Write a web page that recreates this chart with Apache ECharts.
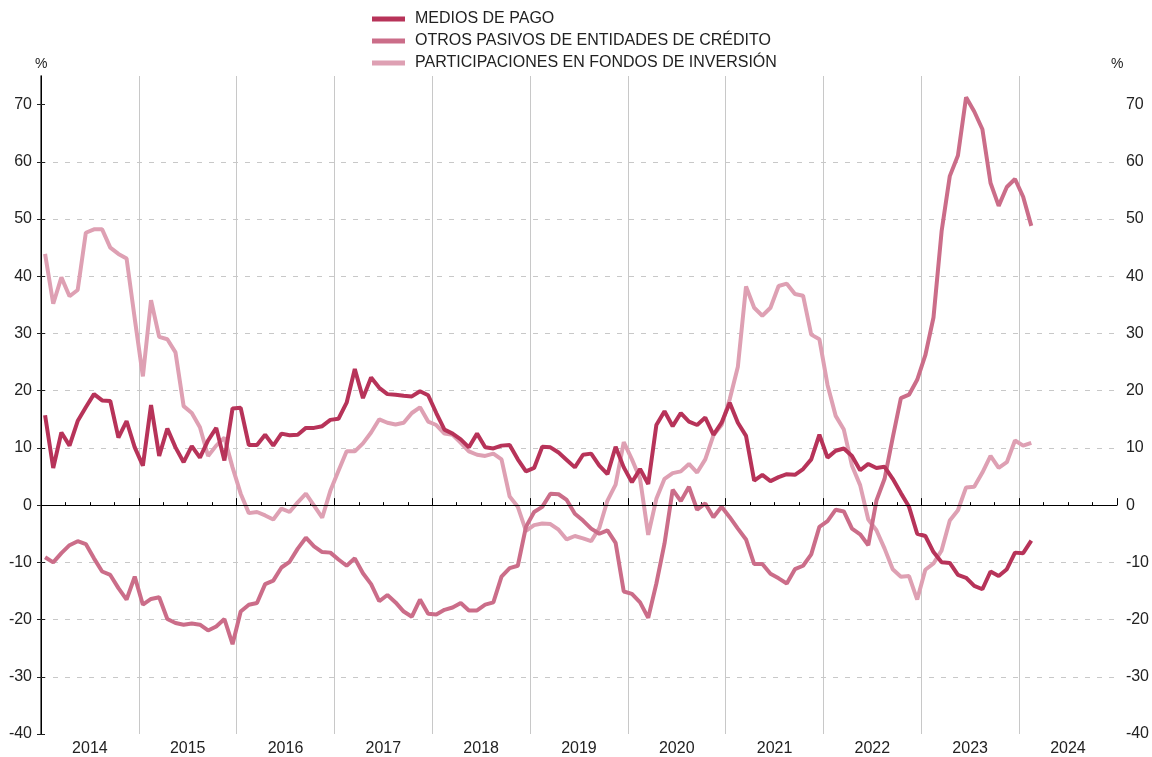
<!DOCTYPE html>
<html lang="es">
<head>
<meta charset="UTF-8">
<title>Medios de pago</title>
<script src="https://cdn.jsdelivr.net/npm/echarts@6.0.0/dist/echarts.min.js"></script>
<style>
  html, body { margin: 0; padding: 0; background: #fff; }
  #chart { width: 1152px; height: 757px; }
</style>
</head>
<body>
<div id="chart"></div>
<script>
// datos mensuales, ene 2014 - feb 2024 (tasas interanuales, %)
const years = ['2014','2015','2016','2017','2018','2019','2020','2021','2022','2023','2024'];

const mediosPago = [
  15.7, 6.5, 12.7, 10.4, 14.7, 17.1, 19.4, 18.3, 18.2, 11.8, 14.7, 10.1,
  6.9, 17.5, 8.6, 13.4, 10.1, 7.5, 10.3, 8.3, 11.3, 13.5, 7.8, 16.9,
  17.0, 10.5, 10.5, 12.3, 10.4, 12.5, 12.2, 12.3, 13.5, 13.5, 13.8, 14.9,
  15.1, 17.9, 23.8, 18.7, 22.3, 20.5, 19.4, 19.3, 19.1, 19.0, 19.9, 19.2,
  16.1, 13.2, 12.5, 11.5, 10.1, 12.5, 10.1, 9.9, 10.4, 10.5, 8.0, 5.9,
  6.5, 10.2, 10.1, 9.2, 7.9, 6.6, 8.8, 9.0, 6.9, 5.4, 10.2, 6.6,
  4.0, 6.3, 3.7, 14.0, 16.4, 13.8, 16.1, 14.6, 14.0, 15.3, 12.3, 14.4,
  17.9, 14.4, 12.1, 4.3, 5.3, 4.2, 4.9, 5.4, 5.3, 6.3, 8.0, 12.3,
  8.3, 9.5, 9.9, 8.6, 6.1, 7.2, 6.5, 6.7, 4.6, 2.1, -0.3, -5.0,
  -5.4, -8.2, -10.0, -10.1, -12.2, -12.7, -14.1, -14.7, -11.6, -12.4, -11.2, -8.3,
  -8.4, -6.2
];

const otrosPasivos = [
  -9.1, -10.0, -8.4, -7.0, -6.3, -6.8, -9.3, -11.6, -12.2, -14.5, -16.5, -12.5,
  -17.4, -16.4, -16.1, -19.9, -20.6, -20.9, -20.7, -20.9, -21.9, -21.2, -19.9, -24.3,
  -18.6, -17.4, -17.1, -13.8, -13.2, -10.9, -9.9, -7.6, -5.7, -7.2, -8.2, -8.3,
  -9.5, -10.6, -9.3, -11.9, -13.8, -16.8, -15.7, -17.0, -18.6, -19.5, -16.5, -19.0,
  -19.1, -18.3, -17.9, -17.1, -18.4, -18.4, -17.4, -17.0, -12.5, -11.0, -10.6, -3.8,
  -1.2, -0.3, 2.0, 1.9, 0.9, -1.5, -2.7, -4.1, -5.0, -4.4, -6.6, -15.1,
  -15.5, -17.0, -19.7, -13.7, -6.7, 2.7, 0.7, 3.2, -0.8, 0.3, -2.1, -0.3,
  -2.1, -4.1, -6.0, -10.3, -10.3, -12.0, -12.8, -13.7, -11.2, -10.6, -8.6, -3.8,
  -2.8, -0.8, -1.1, -4.1, -5.1, -7.0, 0.8, 4.6, 11.8, 18.7, 19.3, 21.9,
  26.2, 32.8, 47.9, 57.5, 61.1, 71.3, 68.8, 65.7, 56.3, 52.3, 55.6, 57.0,
  53.9, 48.8
];

const participaciones = [
  43.9, 35.2, 39.8, 36.5, 37.6, 47.6, 48.2, 48.2, 45.0, 43.9, 43.1, 32.6,
  22.5, 35.8, 29.4, 29.0, 26.7, 17.3, 16.1, 13.6, 8.6, 10.4, 11.8, 6.6,
  2.0, -1.4, -1.2, -1.8, -2.5, -0.6, -1.2, 0.5, 2.0, -0.1, -2.2, 2.5,
  6.0, 9.4, 9.4, 10.8, 12.7, 15.0, 14.4, 14.1, 14.4, 16.1, 17.1, 14.6,
  14.0, 12.5, 12.3, 10.9, 9.4, 8.8, 8.6, 9.0, 8.0, 1.5, -0.3, -4.5,
  -3.5, -3.2, -3.3, -4.3, -6.0, -5.4, -5.8, -6.3, -4.0, 0.8, 3.6, 11.0,
  8.0, 4.6, -5.2, 1.1, 4.6, 5.6, 5.9, 7.2, 5.7, 8.0, 12.2, 14.0,
  18.5, 24.2, 38.2, 34.5, 33.1, 34.5, 38.3, 38.7, 36.9, 36.6, 29.8, 29.0,
  21.0, 15.6, 13.2, 6.9, 3.5, -2.5, -4.4, -7.6, -11.2, -12.5, -12.4, -16.5,
  -11.3, -10.2, -7.9, -2.7, -0.9, 3.1, 3.2, 5.7, 8.6, 6.5, 7.5, 11.3,
  10.4, 10.9
];

const names = [
  'MEDIOS DE PAGO',
  'OTROS PASIVOS DE ENTIDADES DE CRÉDITO',
  'PARTICIPACIONES EN FONDOS DE INVERSIÓN'
];
const colors = ['#b73359', '#cb6d89', '#dea0b3'];
const yTicks = [-40, -30, -20, -10, 0, 10, 20, 30, 40, 50, 60, 70];

// cada mes se pinta en el centro de su intervalo
const toPoints = arr => arr.map((v, i) => [i + 0.5, v]);

const font = 'Liberation Sans, Arial, sans-serif';

const chart = echarts.init(document.getElementById('chart'));

const yAxisBase = {
  type: 'value', min: -40, max: 75, interval: 10,
  axisTick: { show: true, inside: true, length: 4, customValues: yTicks, lineStyle: { color: '#222' } },
  axisLabel: { fontSize: 16, color: '#222', fontFamily: font, margin: 9, customValues: yTicks },
  splitLine: { show: false }
};

chart.setOption({
  animation: false,
  color: colors,
  legend: {
    orient: 'vertical', left: 367, top: 6, itemGap: 6,
    icon: 'rect', itemWidth: 33, itemHeight: 5,
    textStyle: { fontSize: 16, color: '#222', fontFamily: font, lineHeight: 16, padding: [0, 0, 0, 5] },
    data: names
  },
  // unidad "%" sobre ambos ejes verticales
  graphic: [
    { type: 'text', left: 35, top: 57, style: { text: '%', fontSize: 14, fill: '#222', fontFamily: font } },
    { type: 'text', left: 1111, top: 57, style: { text: '%', fontSize: 14, fill: '#222', fontFamily: font } }
  ],
  grid: { left: 41, right: 35, top: 76, bottom: 19 },
  xAxis: [
    {
      type: 'value', min: 0, max: 132, interval: 12,
      axisLine: { lineStyle: { color: '#000', width: 1 } },
      axisTick: { inside: true, length: 7, lineStyle: { color: '#000' } },
      axisLabel: { show: false },
      splitLine: { show: true, showMinLine: false, showMaxLine: false, lineStyle: { color: '#c8c8c8', width: 1 } }
    },
    {
      type: 'value', min: 0, max: 132, interval: 3, position: 'bottom',
      axisLine: { show: false },
      axisTick: { inside: true, length: 3, lineStyle: { color: '#000' } },
      axisLabel: {
        fontSize: 16, color: '#222', fontFamily: font, margin: 7,
        formatter: v => (v % 12 === 6 ? years[(v - 6) / 12] : '')
      },
      splitLine: { show: false }
    }
  ],
  yAxis: [
    Object.assign({}, yAxisBase, {
      position: 'left',
      axisLine: { show: true, lineStyle: { color: '#444', width: 1.5 } },
      splitLine: { show: true, showMinLine: false, showMaxLine: false, lineStyle: { color: '#c8c8c8', type: [5, 7] } }
    }),
    Object.assign({}, yAxisBase, {
      position: 'right',
      axisLine: { show: true, lineStyle: { color: '#000', width: 1 } }
    })
  ],
  series: [
    {
      name: names[0], type: 'line', data: toPoints(mediosPago), showSymbol: false,
      lineStyle: { width: 4 }, z: 4,
      markLine: {
        silent: true, symbol: 'none', label: { show: false },
        lineStyle: { color: '#000', width: 1, type: 'solid' },
        data: [{ yAxis: 0 }]
      }
    },
    { name: names[1], type: 'line', data: toPoints(otrosPasivos), showSymbol: false, lineStyle: { width: 4 }, z: 3 },
    { name: names[2], type: 'line', data: toPoints(participaciones), showSymbol: false, lineStyle: { width: 4 }, z: 2 }
  ]
});
</script>
</body>
</html>
